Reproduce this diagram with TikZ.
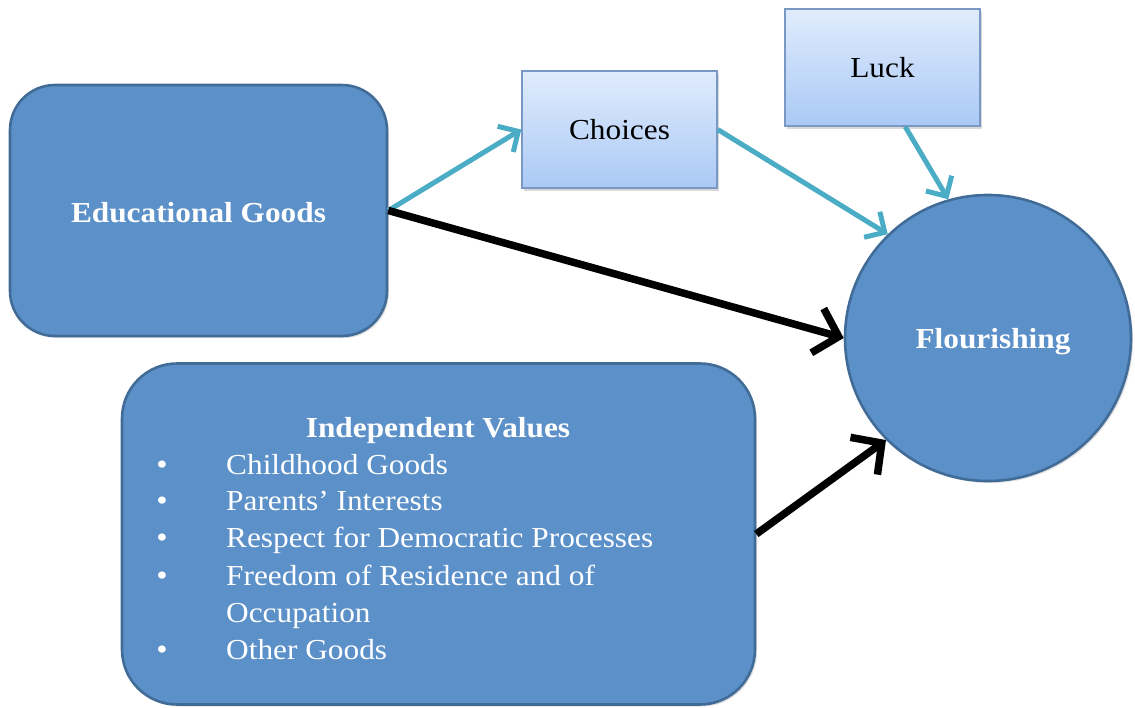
\documentclass[tikz,border=0pt]{standalone}
\usepackage{fontspec}
\setmainfont[FakeStretch=1.08]{Liberation Serif}
\usetikzlibrary{arrows.meta,shadows}
\definecolor{boxfill}{RGB}{92,144,201}
\definecolor{boxedge}{RGB}{66,108,152}
\definecolor{arrowteal}{RGB}{75,172,198}
\definecolor{gradtop}{RGB}{224,236,253}
\definecolor{gradbot}{RGB}{170,201,245}
\definecolor{lightedge}{RGB}{122,152,196}
\begin{document}
\begin{tikzpicture}[x=1pt,y=-1pt,
  bigbox/.style={draw=boxedge, line width=2.6pt, fill=boxfill, inner sep=0pt,
    drop shadow={opacity=0.25, shadow xshift=2pt, shadow yshift=-2pt}},
  smallbox/.style={draw=lightedge, line width=1.4pt, top color=gradtop, bottom color=gradbot,
    inner sep=0pt, font=\fontsize{29}{34}\selectfont,
    drop shadow={opacity=0.3, shadow xshift=2pt, shadow yshift=-3pt}},
  whitebold/.style={text=white, font=\fontsize{29}{34}\selectfont\bfseries, inner sep=0pt},
  whitetext/.style={text=white, font=\fontsize{29}{34}\selectfont, inner sep=0pt, anchor=base west},
  bulletdot/.style={text=white, font=\fontsize{30}{34}\selectfont, inner sep=0pt, anchor=base},
  tealarrow/.style={draw=arrowteal, line width=5pt,
    -{Straight Barb[length=15pt,width=30pt]}},
  blackarrow/.style={draw=black, line width=7.5pt,
    -{Straight Barb[length=22pt,width=46pt]}}
]
\useasboundingbox (0,0) rectangle (1135,707);

% boxes
\node[bigbox, rounded corners=45pt, minimum width=377pt, minimum height=251pt] (eg) at (198.5,210.5) {};
\node[bigbox, rounded corners=55pt, minimum width=633pt, minimum height=341pt] (iv) at (438.5,534) {};
\node[smallbox, minimum width=195pt, minimum height=117pt] (ch) at (619.5,129.5) {Choices};
\node[smallbox, minimum width=195pt, minimum height=117pt] (lk) at (882.5,67.5) {Luck};
\node[bigbox, circle, minimum size=286pt] (fl) at (988,338) {};

% texts
\node[whitebold] (egt) at (198.5,213) {Educational Goods};
\node[whitebold] (flt) at (993,342) {Flourishing};
\node[whitebold, anchor=base] (ivt) at (438,437) {Independent Values};

\node[bulletdot] (b1) at (162,474) {•};
\node[whitetext] (t1) at (226,474) {Childhood Goods};
\node[bulletdot] (b2) at (162,510) {•};
\node[whitetext] (t2) at (226,510) {Parents’ Interests};
\node[bulletdot] (b3) at (162,547) {•};
\node[whitetext] (t3) at (226,547) {Respect for Democratic Processes};
\node[bulletdot] (b4) at (162,585) {•};
\node[whitetext] (t4) at (226,585) {Freedom of Residence and of};
\node[whitetext] (t5) at (226,622) {Occupation};
\node[bulletdot] (b6) at (162,659) {•};
\node[whitetext] (t6) at (226,659) {Other Goods};

% connectors
\draw[tealarrow] (eg.east) -- (ch.west);
\draw[blackarrow] (eg.east) -- (fl.180);
\draw[tealarrow] (ch.east) -- (fl.134);
\draw[tealarrow] (lk.-69) -- (fl.106);
\draw[blackarrow] (iv.east) -- (fl.225);
\end{tikzpicture}
\end{document}
